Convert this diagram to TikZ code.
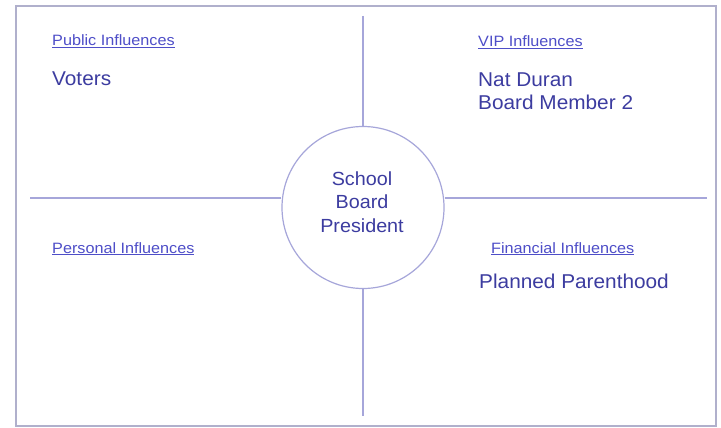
\documentclass[tikz,border=0pt]{standalone}
\usepackage{fontspec}
\setmainfont{Liberation Sans}
\newfontfamily\labelfont[FakeStretch=1.08]{Liberation Sans}
\newfontfamily\mainfont[FakeStretch=1.04]{Liberation Sans}
\definecolor{framecol}{RGB}{176,176,204}
\definecolor{linecol}{RGB}{166,166,218}
\definecolor{labelcol}{RGB}{78,78,200}
\definecolor{maincol}{RGB}{60,60,160}
\begin{document}
\begin{tikzpicture}[x=1pt,y=-1pt,
  quadlabel/.style={anchor=base west,inner sep=0pt,text=labelcol,font=\labelfont\fontsize{15}{18}\selectfont},
  quadtext/.style={anchor=base west,inner sep=0pt,text=maincol,align=left,font=\mainfont\fontsize{20}{23}\selectfont},
  divider/.style={draw=linecol,line width=1.2pt},
  center circle/.style={circle,draw=linecol,line width=1.2pt,minimum size=162pt,inner sep=0pt}]
\useasboundingbox (0,0) rectangle (721,428);
\fill[white] (0,0) rectangle (721,428);
\draw[framecol,line width=1.2pt] (16,6) rectangle (716,426);
% center
\node[center circle] (pres) at (363,207.5) {};
\node[anchor=base,inner sep=0pt,text=maincol,align=center,font=\mainfont\fontsize{19}{23.5}\selectfont] (prestext) at (362,232) {School\\Board\\President};
% dividers
\coordinate (vtop) at (363,16);
\coordinate (vbot) at (363,416);
\coordinate (hleft) at (30,198);
\coordinate (hright) at (707,198);
\draw[divider] (vtop) -- (pres.north);
\draw[divider] (pres.south) -- (vbot);
\draw[divider] (hleft) -- (pres.west |- hleft);
\draw[divider] (pres.east |- hright) -- (hright);
% quadrants
\node[quadlabel] (publab) at (52,46) {\underline{Public Influences}};
\node[quadtext] (pubtxt) at (52,86) {Voters};
\node[quadlabel] (viplab) at (478,47) {\underline{VIP Influences}};
\node[quadtext] (viptxt) at (478,110) {Nat Duran\\Board Member 2};
\node[quadlabel] (perlab) at (52,253) {\underline{Personal Influences}};
\node[quadlabel] (finlab) at (491,253) {\underline{Financial Influences}};
\node[quadtext] (fintxt) at (479,288) {Planned Parenthood};
\end{tikzpicture}
\end{document}
